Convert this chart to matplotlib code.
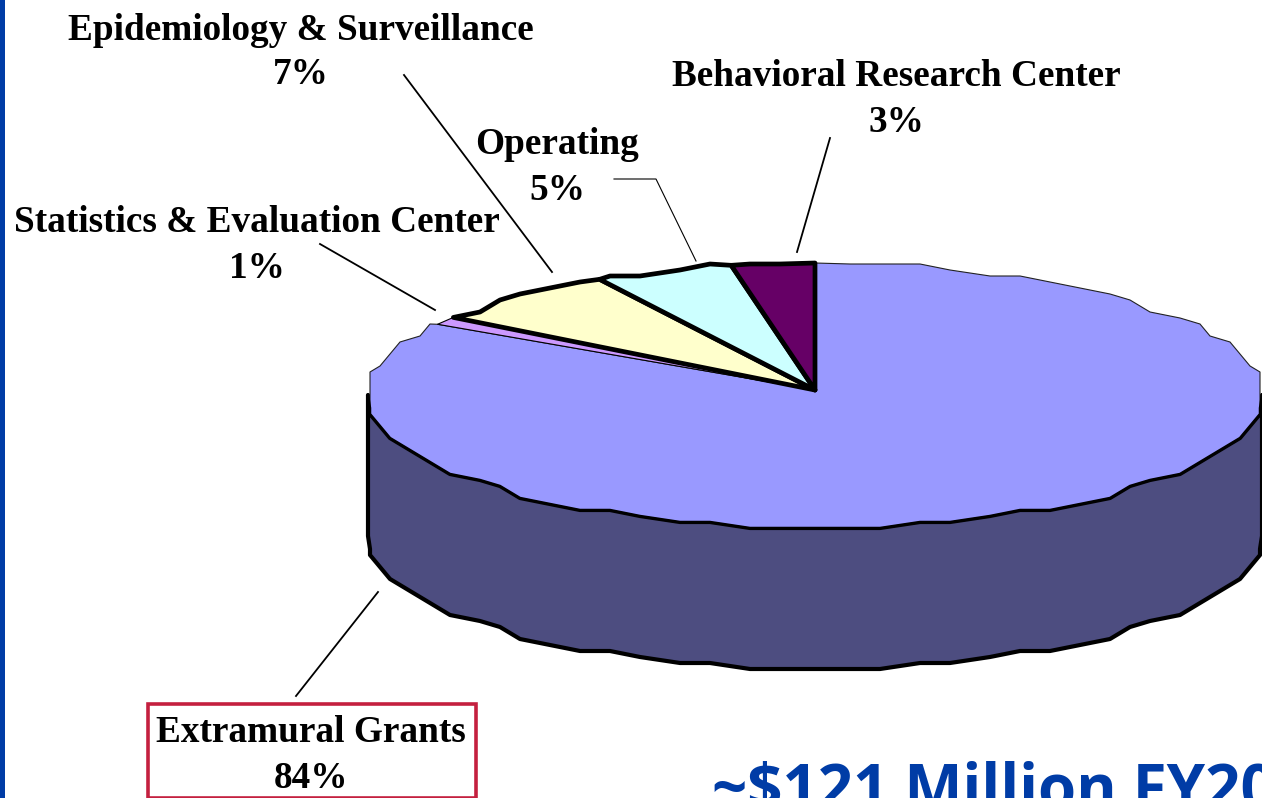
import numpy as np
import matplotlib
matplotlib.use('Agg')
import matplotlib.pyplot as plt
from matplotlib.patches import Polygon, Rectangle

# counterclockwise from 12 o'clock
categories = ['Behavioral Research Center', 'Operating', 'Epidemiology & Surveillance',
              'Statistics & Evaluation Center', 'Extramural Grants']
percents = [3, 5, 7, 1, 84]
colors = ['#660066', '#CCFFFF', '#FFFFCC', '#CC99FF', '#9999FF']
side_color = '#4D4D80'
title_text = '~$121 Million FY20'

# label centres in pixels: name line y, value line y, x
label_x = [896, 557, 301, 257, 311]
label_y = [77, 145, 30, 223, 733]
value_y = [122, 190, 75, 268, 779]

cx, cy, rx, ry = 815, 395, 447, 132
apex = (815, 390)
depth = 141
step = np.radians(4.5)


def rim(a):
    return cx - rx * np.sin(a), cy - ry * np.cos(a)


def rough_rim(a0, a1):
    # the original outline is stepped, snap the rim to a coarse grid
    pts = [rim(a0)]
    k0 = int(np.floor(a0 / step)) + 1
    k1 = int(np.ceil(a1 / step))
    for k in range(k0, k1):
        x, y = rim(k * step)
        x = np.clip(np.round(x / 10) * 10, cx - rx, cx + rx)
        pts.append((x, np.round(y / 6) * 6))
    pts.append(rim(a1))
    return pts


fig = plt.figure(figsize=(12.62, 7.98), dpi=100)
ax = fig.add_axes([0, 0, 1, 1])
ax.set_xlim(0, 1262)
ax.set_ylim(798, 0)
ax.axis('off')

ax.add_patch(Rectangle((0, 0), 5, 798, color='#003CA6', lw=0))

# side wall
edge = rough_rim(np.radians(90), np.radians(270))
wall = edge + [(x, y + depth) for x, y in edge[::-1]]
ax.add_patch(Polygon(wall, closed=True, fc=side_color, ec='black', lw=3.0, joinstyle='round'))

# top slices, big one first so the small ones sit on top
fracs = np.cumsum([0] + percents) / sum(percents) * 2 * np.pi
pts = [apex] + rough_rim(fracs[4], fracs[5])
ax.add_patch(Polygon(pts, closed=True, fc=colors[4], ec='#222222', lw=0.8))
for i in [3, 2, 1, 0]:
    pts = [apex] + rough_rim(fracs[i], fracs[i + 1])
    lw = 0.8 if i == 3 else 3.4
    ax.add_patch(Polygon(pts, closed=True, fc=colors[i], ec='black', lw=lw, joinstyle='round'))

# dark seam between the top and the wall
ax.plot([p[0] for p in edge], [p[1] for p in edge], color='black', lw=1.8)

# leader lines
ax.plot([404, 552], [75, 272], color='black', lw=1.3)
ax.plot([614, 656, 696], [179, 179, 261], color='black', lw=0.8)
ax.plot([830, 797], [138, 252], color='black', lw=1.3)
ax.plot([320, 435], [244, 310], color='black', lw=1.3)
ax.plot([378, 296], [592, 696], color='black', lw=1.3)

ax.add_patch(Rectangle((147.5, 704), 328, 94, fc='white', ec='#C4203F', lw=2.6, clip_on=True))

font = dict(family='Liberation Serif', weight='bold', fontsize=26.85, color='black',
            ha='center', va='center')
for name, p, x, y1, y2 in zip(categories, percents, label_x, label_y, value_y):
    ax.text(x, y1, name, **font)
    ax.text(x, y2, f'{p}%', **font)

ax.text(712, 793, title_text, family='Open Sans', weight='bold', fontsize=44.5,
        color='#003CA6', ha='left', va='center', clip_on=True)

fig.savefig('out.png', dpi=100)
